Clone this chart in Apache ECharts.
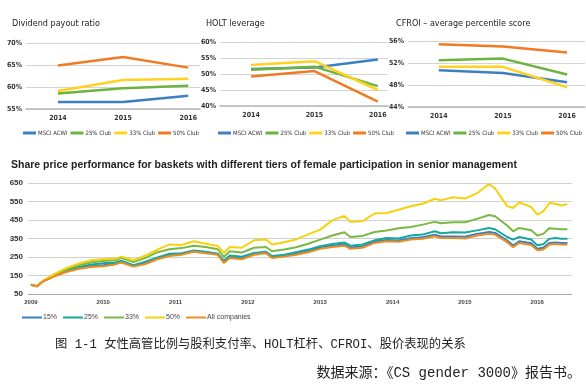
<!DOCTYPE html>
<html><head><meta charset="utf-8">
<script src="https://cdn.jsdelivr.net/npm/echarts@6/dist/echarts.min.js"></script>
<style>html,body{margin:0;padding:0;background:#fff}#c{width:586px;height:387px}</style>
</head><body><div id="c"></div>
<script>
// ---------- small panels data ----------
const smallYears = [2014, 2015, 2016];
const clubNames = ['MSCI ACWI', '25% Club', '33% Club', '50% Club'];
const dividendMSCI = [56.6, 56.6, 58.0];
const dividend25 = [58.5, 59.7, 60.3];
const dividend33 = [59.1, 61.6, 61.9];
const dividend50 = [64.9, 66.8, 64.4];
const holtMSCI = [51.6, 52.0, 54.5];
const holt25 = [51.3, 52.3, 46.2];
const holt33 = [52.8, 54.0, 45.0];
const holt50 = [49.2, 50.9, 41.4];
const cfroiMSCI = [50.7, 50.2, 48.5];
const cfroi25 = [52.5, 52.8, 49.9];
const cfroi33 = [51.3, 51.3, 47.6];
const cfroi50 = [55.4, 55.0, 53.9];

// ---------- main chart data ----------
const mainDates = ['2009-01','2009-02','2009-03','2009-05','2009-07','2009-09','2009-11','2010-01','2010-03','2010-04','2010-06','2010-08','2010-10','2010-12','2011-02','2011-04','2011-06','2011-08','2011-09','2011-10','2011-12','2012-02','2012-04','2012-05','2012-07','2012-09','2012-11','2013-01','2013-03','2013-05','2013-06','2013-08','2013-10','2013-12','2014-02','2014-04','2014-06','2014-08','2014-09','2014-11','2015-01','2015-03','2015-05','2015-06','2015-08','2015-09','2015-10','2015-12','2016-01','2016-02','2016-03','2016-04','2016-05','2016-06'];
const mainYears = [2009, 2010, 2011, 2012, 2013, 2014, 2015, 2016];
const basketNames = ['15%', '25%', '33%', '50%', 'All companies'];
const basket15 = [100,92,119,149,173,190,201,206,215,225,203,217,243,261,267,283,275,266,223,250,243,267,275,250,257,268,282,300,311,318,301,307,333,342,339,352,357,370,361,361,359,375,385,380,339,312,335,324,295,300,326,329,326,326];
const basket25 = [100,92,118,150,178,196,210,216,220,230,206,224,248,268,270,285,278,268,230,258,252,272,278,255,262,276,290,308,320,329,311,318,340,353,350,366,371,389,378,384,382,394,407,400,358,344,358,345,313,319,348,353,349,349];
const basket33 = [100,92,120,155,185,205,222,228,232,245,222,245,276,292,298,311,304,292,250,281,274,300,304,281,290,303,322,344,366,384,358,364,385,393,405,412,425,440,432,438,438,456,477,470,420,389,407,395,366,375,405,403,400,400];
const basket50 = [100,92,122,160,192,215,232,238,240,252,232,258,290,318,315,335,322,310,272,304,300,340,345,318,330,345,372,398,448,472,440,443,485,488,505,524,538,565,556,573,566,595,645,620,525,515,545,520,479,497,542,538,528,537];
const basketAll = [100,92,118,147,170,186,196,200,210,220,198,212,238,255,262,278,270,262,218,245,238,262,270,245,252,262,276,294,304,311,294,300,326,335,332,344,349,362,353,353,350,366,376,371,330,303,326,315,286,290,317,320,317,317];

const clubColors = ['#3b80c3', '#6db33f', '#ffd21f', '#f07b22'];
const basketColors = ['#2f80c8', '#16a79e', '#78b843', '#f6d10e', '#f08c1e'];

const narrow = "'Liberation Sans Narrow','DejaVu Sans Condensed','Arial Narrow','Liberation Sans',sans-serif";

const panels = [
  {title: 'Dividend payout ratio', values: [dividendMSCI, dividend25, dividend33, dividend50],
   grid: {left: 26, right: 386, top: 43, bottom: 278}, xmin: 2013.51, xmax: 2016.18,
   ymin: 55, ymax: 70, step: 5, titleLeft: 7, legendLeft: 23},
  {title: 'HOLT leverage', values: [holtMSCI, holt25, holt33, holt50],
   grid: {left: 220, right: 198, top: 42, bottom: 281}, xmin: 2013.51, xmax: 2016.16,
   ymin: 40, ymax: 60, step: 5, titleLeft: 201, legendLeft: 218},
  {title: 'CFROI \u2013 average percentile score', values: [cfroiMSCI, cfroi25, cfroi33, cfroi50],
   grid: {left: 408, right: 1, top: 41, bottom: 280}, xmin: 2013.52, xmax: 2016.28,
   ymin: 44, ymax: 56, step: 4, titleLeft: 391, legendLeft: 406}
];

const option = {
  animation: false,
  backgroundColor: '#fff',
  title: [], legend: [], grid: [], xAxis: [], yAxis: [], series: []
};

panels.forEach((p, i) => {
  option.title.push({text: p.title, left: p.titleLeft, top: 14,
    textStyle: {fontFamily: narrow, fontSize: 9, fontWeight: 'normal', color: '#222'}});
  option.legend.push({data: clubNames, left: p.legendLeft, top: 130, icon: 'rect',
    itemWidth: 13, itemHeight: 3, itemGap: 3, selectedMode: false, padding: 0,
    textStyle: {fontFamily: narrow, fontSize: 6, color: '#333', padding: [0, 0, 0, -3]}});
  option.grid.push(Object.assign({containLabel: false}, p.grid));
  option.xAxis.push({type: 'value', gridIndex: i, min: p.xmin, max: p.xmax,
    splitLine: {show: false}, axisTick: {show: false},
    axisLine: {show: true, onZero: false, lineStyle: {color: '#b8b8b8', width: 1.5}},
    axisLabel: {customValues: smallYears, formatter: v => String(Math.round(v)),
      fontFamily: narrow, fontSize: 7, fontWeight: 'bold', color: '#333', margin: 6}});
  option.yAxis.push({type: 'value', gridIndex: i, min: p.ymin, max: p.ymax, interval: p.step,
    axisLine: {show: false}, axisTick: {show: false},
    splitLine: {lineStyle: {color: '#d4d4d4', width: 1}},
    axisLabel: {formatter: v => v + '%', fontFamily: narrow, fontSize: 7, fontWeight: 'bold',
      color: '#333', margin: 4}});
  clubNames.forEach((n, k) => {
    option.series.push({type: 'line', name: n, xAxisIndex: i, yAxisIndex: i,
      data: smallYears.map((y, j) => [y, p.values[k][j]]),
      symbol: 'none', lineStyle: {width: 2.5, color: clubColors[k]},
      itemStyle: {color: clubColors[k]}, silent: true});
  });
});

// main chart
const mi = panels.length;
const toYear = d => { const [y, m] = d.split('-').map(Number); return y + (m - 1) / 12; };
option.title.push({text: 'Share price performance for baskets with different tiers of female participation in senior management',
  left: 6, top: 155, textStyle: {fontFamily: 'Liberation Sans, Arial, sans-serif', fontSize: 10.5, fontWeight: 'bold', color: '#222'}});
option.legend.push({data: basketNames, left: 22, top: 314, icon: 'rect', itemWidth: 20, itemHeight: 2,
  itemGap: 6, selectedMode: false, padding: 0,
  textStyle: {fontFamily: 'Liberation Sans, Arial, sans-serif', fontSize: 7, color: '#444', padding: [0, 0, 0, -4]}});
option.grid.push({left: 28, right: 14, top: 183, bottom: 93});
option.xAxis.push({type: 'value', gridIndex: mi, min: 2008.96, max: 2016.48,
  splitLine: {show: false}, axisTick: {show: false},
  axisLine: {show: true, onZero: false, lineStyle: {color: '#aaa', width: 1}},
  axisLabel: {customValues: mainYears, formatter: v => String(Math.round(v)),
    fontFamily: 'Liberation Sans, Arial, sans-serif', fontSize: 6, fontWeight: 'bold', color: '#444', margin: 5}});
option.yAxis.push({type: 'value', gridIndex: mi, min: 50, max: 650, interval: 100,
  axisLine: {show: false}, axisTick: {show: false},
  splitLine: {lineStyle: {color: '#d0d0d0', width: 1}},
  axisLabel: {fontFamily: 'Liberation Sans, Arial, sans-serif', fontSize: 8, fontWeight: 'bold', color: '#333', margin: 5}});
const basketValues = [basket15, basket25, basket33, basket50, basketAll];
basketNames.forEach((n, k) => {
  option.series.push({type: 'line', name: n, xAxisIndex: mi, yAxisIndex: mi,
    data: mainDates.map((d, j) => [toYear(d), basketValues[k][j]]),
    symbol: 'none', lineStyle: {width: 2, color: basketColors[k]},
    itemStyle: {color: basketColors[k]}, silent: true});
});

// captions
const cjk = "'Liberation Mono','Noto Sans CJK SC',monospace";
option.title.push({text: '图 1-1 女性高管比例与股利支付率、HOLT杠杆、CFROI、股价表现的关系',
  left: 50, top: 334, textStyle: {fontFamily: cjk, fontSize: 12.3, fontWeight: 'normal', color: '#222'}});
option.title.push({text: '数据来源：《CS gender 3000》报告书。',
  right: 0, top: 361, textStyle: {fontFamily: cjk, fontSize: 14, fontWeight: 'normal', color: '#222'}});

const chart = echarts.init(document.getElementById('c'), null, {renderer: 'canvas'});
chart.setOption(option);
</script></body></html>
